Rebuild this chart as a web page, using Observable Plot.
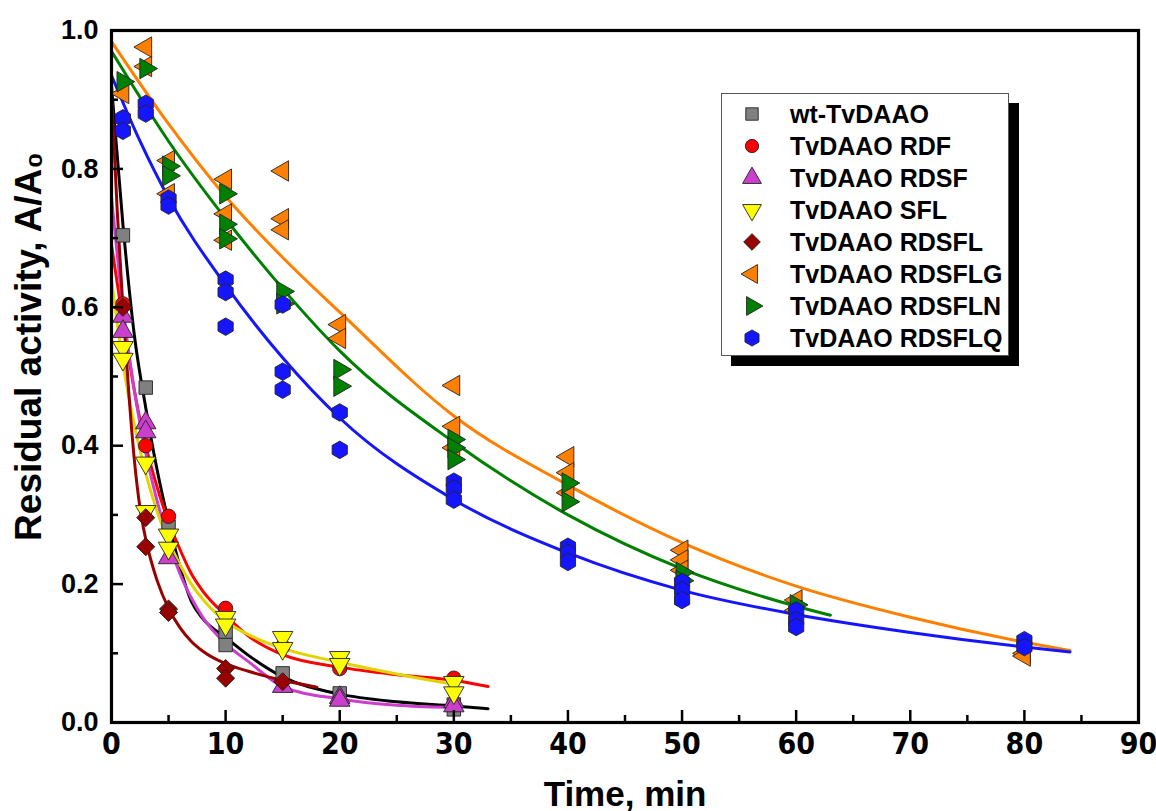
<!DOCTYPE html>
<html><head><meta charset="utf-8">
<script src="https://cdn.jsdelivr.net/npm/d3@7"></script>
<script src="https://cdn.jsdelivr.net/npm/@observablehq/plot@0.6"></script>
<style>
body{margin:0;background:#fff;}
#wrap{position:relative;width:1156px;height:811px;overflow:hidden;background:#fff;}
#legend{position:absolute;left:721px;top:93px;width:286px;height:261px;background:#fff;border:1px solid #555;box-shadow:10px 10px 0 #000;font-family:"Liberation Sans",Arial,sans-serif;font-weight:bold;font-size:25px;color:#000;}
.row{position:absolute;left:0;height:32px;width:286px;}
.row svg{position:absolute;left:17px;top:4px;}
.row span{position:absolute;left:68px;top:2px;line-height:30px;white-space:nowrap;}
</style></head>
<body><div id="wrap"><div id="chart"></div><div id="legend"></div></div>
<script>
// ---- data ----
const seriesNames = ["wt-TvDAAO","TvDAAO RDF","TvDAAO RDSF","TvDAAO SFL","TvDAAO RDSFL","TvDAAO RDSFLG","TvDAAO RDSFLN","TvDAAO RDSFLQ"];
const xTicks = [0,10,20,30,40,50,60,70,80,90];
const xMinor = [5,15,25,35,45,55,65,75,85];
const yTicks = [0,0.2,0.4,0.6,0.8,1.0];
const yMinor = [0.1,0.3,0.5,0.7,0.9];

// measured points
const wtT = [1,3,5,10,10,15,20,30,30];
const wtA = [0.704,0.484,0.283,0.131,0.112,0.071,0.042,0.026,0.019];
const rdfT = [1,3,5,10,15,20,30];
const rdfA = [0.605,0.40,0.298,0.165,0.11,0.078,0.064];
const rdsfT = [1,1,3,3,5,15,20,20,30,30];
const rdsfA = [0.587,0.565,0.433,0.42,0.238,0.052,0.036,0.032,0.03,0.024];
const sflT = [1,1,3,3,5,5,10,10,15,15,20,20,30,30];
const sflA = [0.542,0.525,0.375,0.305,0.271,0.252,0.152,0.141,0.123,0.107,0.094,0.084,0.058,0.043];
const rdsflT = [1,3,3,5,5,10,10,15];
const rdsflA = [0.60,0.296,0.254,0.164,0.159,0.078,0.064,0.059];
const rdsflgT = [1,3,3,5,5,10,10,10,15,15,15,20,20,30,30,30,40,40,40,50,50,50,60,60,80,80];
const rdsflgA = [0.909,0.976,0.948,0.812,0.764,0.785,0.735,0.697,0.797,0.728,0.712,0.575,0.555,0.487,0.428,0.397,0.384,0.361,0.332,0.249,0.235,0.22,0.177,0.162,0.1,0.096];
const rdsflnT = [1,3,5,5,10,10,10,15,15,20,20,30,30,30,40,40,50,50,60];
const rdsflnA = [0.926,0.945,0.804,0.79,0.764,0.72,0.699,0.623,0.605,0.51,0.486,0.409,0.397,0.38,0.346,0.319,0.217,0.205,0.17];
const rdsflqT = [1,1,3,3,5,5,10,10,10,15,15,15,20,20,30,30,30,40,40,40,50,50,50,60,60,60,80,80];
const rdsflqA = [0.873,0.855,0.894,0.88,0.757,0.747,0.64,0.622,0.572,0.604,0.507,0.481,0.448,0.394,0.348,0.338,0.322,0.254,0.245,0.232,0.203,0.191,0.177,0.162,0.148,0.138,0.119,0.109];

// fitted curves
const wtFitT = [0,1,2,3,4,5,6,7,8,10,12,15,20,25,30,33];
const wtFitA = [0.92,0.72,0.56,0.455,0.365,0.29,0.225,0.175,0.15,0.123,0.097,0.066,0.041,0.03,0.024,0.02];
const rdfFitT = [0,1,2,3,4,5,6,7,8,10,12,15,20,25,30,33];
const rdfFitA = [0.69,0.58,0.48,0.40,0.34,0.29,0.25,0.215,0.19,0.155,0.125,0.098,0.08,0.069,0.061,0.052];
const rdsfFitT = [0,1,2,3,4,5,6,7,8,10,12,15,20,25,29.5];
const rdsfFitA = [0.76,0.60,0.48,0.39,0.32,0.262,0.215,0.18,0.152,0.114,0.088,0.052,0.034,0.025,0.022];
const sflFitT = [0,1,2,3,4,5,6,7,8,10,12,15,20,25,30];
const sflFitA = [0.64,0.52,0.43,0.36,0.305,0.262,0.228,0.2,0.178,0.146,0.127,0.107,0.087,0.07,0.055];
const rdsflFitT = [0,0.5,1,1.5,2,2.5,3,4,5,6,7,8,10,12,15,18];
const rdsflFitA = [0.91,0.74,0.60,0.48,0.38,0.31,0.265,0.205,0.165,0.137,0.117,0.103,0.085,0.074,0.061,0.051];
const rdsflgFitT = [0,5,10,15,20,30,40,50,60,70,80,84];
const rdsflgFitA = [0.984,0.865,0.76,0.672,0.593,0.443,0.343,0.26,0.197,0.152,0.116,0.104];
const rdsflnFitT = [0,5,10,15,20,30,40,50,60,63];
const rdsflnFitA = [0.97,0.84,0.728,0.627,0.537,0.405,0.3,0.222,0.168,0.155];
const rdsflqFitT = [0,2.5,5,10,15,20,30,40,50,60,70,80,84];
const rdsflqFitA = [0.935,0.84,0.758,0.632,0.527,0.44,0.322,0.245,0.191,0.156,0.13,0.109,0.102];

// ---- styles ----
const styles = [
  {fill:"#808080", line:"#000000", symbol:"square", rotate:0, r:7.6},
  {fill:"#ff0000", line:"#ff0000", symbol:"circle", rotate:0, r:7.2},
  {fill:"#cc3fcc", line:"#cc3fcc", symbol:"triangle", rotate:0, r:7.6},
  {fill:"#ffff00", line:"#e2d400", symbol:"triangle", rotate:180, r:7.6},
  {fill:"#990000", line:"#990000", symbol:"square", rotate:45, r:7.2},
  {fill:"#ff8000", line:"#ff8000", symbol:"triangle", rotate:-90, r:7.6},
  {fill:"#008000", line:"#008000", symbol:"triangle", rotate:90, r:7.6},
  {fill:"#1515ff", line:"#1515ff", symbol:"hexagon", rotate:0, r:7.6}
];

const pts = [[wtT,wtA],[rdfT,rdfA],[rdsfT,rdsfA],[sflT,sflA],[rdsflT,rdsflA],[rdsflgT,rdsflgA],[rdsflnT,rdsflnA],[rdsflqT,rdsflqA]];
const fits = [[wtFitT,wtFitA],[rdfFitT,rdfFitA],[rdsfFitT,rdsfFitA],[sflFitT,sflFitA],[rdsflFitT,rdsflFitA],[rdsflgFitT,rdsflgFitA],[rdsflnFitT,rdsflnFitA],[rdsflqFitT,rdsflqFitA]];
const rows = ([T,A]) => T.map((t,i)=>({t, a:A[i]}));

const W = 1156, H = 811, mT = 30, mR = 18, mB = 89, mL = 111;
const fH = H - mT - mB, fW = W - mL - mR;
const font = "'Liberation Sans', Arial, sans-serif";

const marks = [];
fits.forEach((f,i) => marks.push(Plot.line(rows(f), {x:"t", y:"a", stroke: styles[i].line, strokeWidth: 3, curve: "monotone-x"})));
pts.forEach((p,i) => {
  const s = styles[i];
  marks.push(Plot.dot(rows(p), {x:"t", y:"a", symbol: s.symbol, rotate: s.rotate, r: s.r, fill: s.fill, stroke:"#222", strokeWidth: 0.9}));
});
marks.push(
  Plot.tickX(xTicks, {x: d=>d, stroke:"#000", strokeWidth: 2.5, insetTop: fH - 12}),
  Plot.tickX(xMinor, {x: d=>d, stroke:"#000", strokeWidth: 2.5, insetTop: fH - 7}),
  Plot.tickY(yTicks, {y: d=>d, stroke:"#000", strokeWidth: 2.5, insetRight: fW - 12}),
  Plot.tickY(yMinor, {y: d=>d, stroke:"#000", strokeWidth: 2.5, insetRight: fW - 7}),
  Plot.frame({stroke:"#000", strokeWidth: 3.2}),
  Plot.axisX(xTicks, {tickSize: 0, tickPadding: 10, label: null, fontSize: 30, fontWeight: "bold", fontFamily: "'Liberation Sans Narrow', 'DejaVu Sans Condensed', Arial, sans-serif"}),
  Plot.axisY(yTicks, {tickSize: 0, tickPadding: 13, label: null, tickFormat: d3.format(".1f"), fontSize: 27, fontWeight: "bold", fontFamily: font}),
  Plot.text(["Time, min"], {frameAnchor: "bottom", textAnchor: "middle", dy: 83, fontSize: 35, fontWeight: "bold", fontFamily: font, text: d=>d}),
  Plot.text(["Residual activity, A/A₀"], {frameAnchor: "left", textAnchor: "middle", dx: -82, dy: -30, rotate: -90, fontSize: 37, fontWeight: "bold", fontFamily: font, text: d=>d})
);

const chart = Plot.plot({
  width: W, height: H,
  marginTop: mT, marginRight: mR, marginBottom: mB, marginLeft: mL,
  x: {domain: [0, 90]},
  y: {domain: [0, 1]},
  style: {background: "#fff", color: "#000", fontFamily: font},
  marks
});
document.getElementById("chart").appendChild(chart);

// legend
const hexagon = {draw(ctx, size){const rx=Math.sqrt(size/Math.PI), ry=rx*2/Math.sqrt(3), hy=ry/2; ctx.moveTo(0,ry); ctx.lineTo(rx,hy); ctx.lineTo(rx,-hy); ctx.lineTo(0,-ry); ctx.lineTo(-rx,-hy); ctx.lineTo(-rx,hy); ctx.closePath();}};
const symType = {square: d3.symbolSquare, circle: d3.symbolCircle, triangle: d3.symbolTriangle, hexagon};
const leg = d3.select("#legend");
seriesNames.forEach((name,i) => {
  const s = styles[i];
  const row = leg.append("div").attr("class","row").style("top", (3 + i*32) + "px");
  const svg = row.append("svg").attr("width",26).attr("height",26);
  svg.append("path")
    .attr("d", d3.symbol().type(symType[s.symbol]).size(Math.PI*s.r*s.r*0.85)())
    .attr("transform", `translate(13,13) rotate(${s.rotate})`)
    .attr("fill", s.fill).attr("stroke","#222").attr("stroke-width",0.9);
  row.append("span").text(name);
});
</script>
</body></html>
